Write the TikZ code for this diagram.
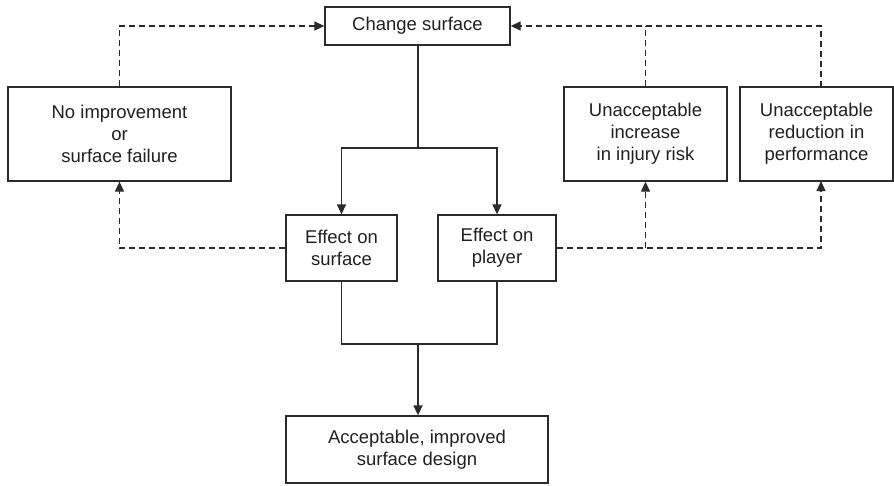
\documentclass[tikz,border=0pt]{standalone}
\usepackage{fontspec}
\setmainfont{Liberation Sans}
\usetikzlibrary{arrows.meta}
\definecolor{ink}{HTML}{2B2B2B}
\definecolor{txt}{HTML}{231F20}
\tikzset{
  box/.style={draw=ink, line width=1.3pt, align=center, text=txt, inner sep=0pt,
    font=\fontsize{18.5}{22}\selectfont},
  conn/.style={draw=ink, line width=1.3pt},
  tip/.style={-{Triangle[length=10pt,width=9pt]}},
  dashline/.style={conn, dash pattern=on 6pt off 4pt},
}
\begin{document}
\begin{tikzpicture}[x=1pt,y=-1pt]
\useasboundingbox (0,0) rectangle (894,485);
\node[box, minimum width=185pt, minimum height=38pt] (cs) at (417.5,26) {Change surface};
\node[box, minimum width=223pt, minimum height=94pt] (ni) at (119.5,134) {No improvement\\or\\surface failure};
\node[box, minimum width=163pt, minimum height=94pt] (ui) at (645.5,134) {Unacceptable\\increase\\in injury risk};
\node[box, minimum width=153pt, minimum height=94pt] (ur) at (816.5,134) {Unacceptable\\reduction in\\performance};
\node[box, minimum width=111pt, minimum height=66pt] (es) at (341.5,248) {Effect on\\surface};
\node[box, minimum width=118pt, minimum height=66pt] (ep) at (497,248) {Effect on\\player};
\node[box, minimum width=262pt, minimum height=67pt] (ac) at (417,449.5) {Acceptable, improved\\surface design};
\coordinate (split) at (418,148);
\coordinate (merge) at (418,344);
\coordinate (urtop) at (821,87);
\coordinate (urbot) at (821,181);
% solid flow
\draw[conn] (cs.south -| split) -- (split);
\draw[conn, tip] (split) -| (es.north);
\draw[conn, tip] (split) -| (ep.north);
\draw[conn] (es.south) |- (ep.south |- merge) -- (ep.south);
\draw[conn, tip] (merge) -- (merge |- ac.north);
% dashed feedback
\draw[dashline, tip] (ni.north) |- (cs.west);
\draw[dashline, tip] (urtop) |- (cs.east);
\draw[dashline] (ui.north) -- (ui.north |- cs.east);
\draw[dashline, tip] (es.west) -| (ni.south);
\draw[dashline, tip] (ep.east) -| (urbot);
\draw[dashline, tip] (ui.south |- ep.east) -- (ui.south);
\end{tikzpicture}
\end{document}
